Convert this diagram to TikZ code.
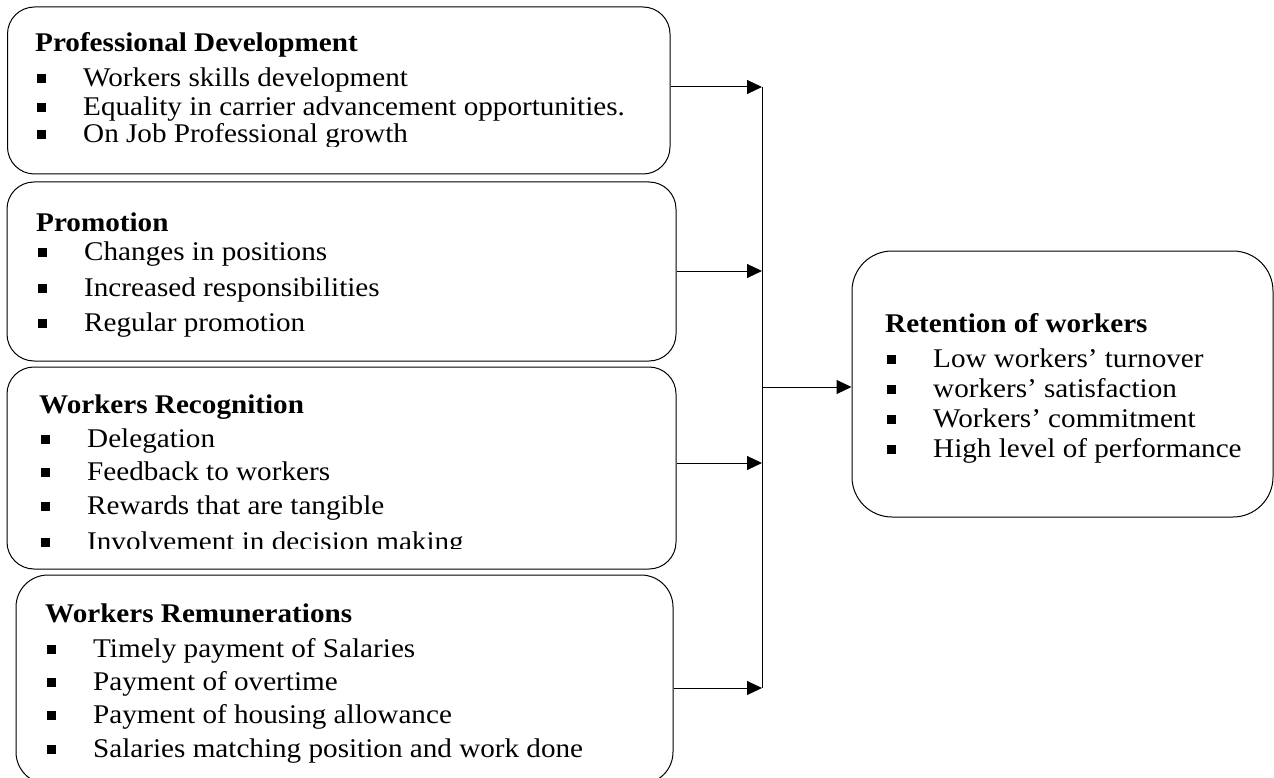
\documentclass[tikz,border=0pt]{standalone}
\usepackage{fontspec}
\setmainfont{Liberation Serif}[FakeStretch=1.08]
\usetikzlibrary{arrows.meta}
\newcommand{\bulitem}[1]{\kern2pt\rule[3.5pt]{9pt}{9pt}\kern37pt #1}
\tikzset{
	box/.style={draw,line width=1pt,rounded corners=27pt,inner sep=0pt},
	head/.style={anchor=base west,inner sep=0pt,font=\fontsize{27}{32}\selectfont\bfseries},
	item/.style={anchor=base west,inner sep=0pt,font=\fontsize{27}{32}\selectfont},
}
\begin{document}
\begin{tikzpicture}[x=1pt,y=-1pt,>={Triangle[length=15pt,width=14pt]}]
			\useasboundingbox (0,0) rectangle (1274,778);
			% boxes
			\node[box,minimum width=662.5pt,minimum height=167pt] (pd) at (338.75,90.5) {};
			\node[box,minimum width=669pt,minimum height=179pt] (pr) at (341.5,271.5) {};
			\node[box,minimum width=669pt,minimum height=202pt] (wr) at (341.5,468) {};
			\node[box,minimum width=657pt,minimum height=209pt,rounded corners=32pt] (wm) at (344.5,679.5) {};
			\node[box,minimum width=421pt,minimum height=266pt,rounded corners=40pt] (rw) at (1062.5,384) {};
			% texts
			\begin{scope}
				\clip (0,0) rectangle (700,147);
				\node[head] (pdh) at (35,52) {Professional Development};
				\foreach \y/\t [count=\i] in {87/Workers skills development,116/Equality in carrier advancement opportunities.,143/On Job Professional growth}
					\node[item] (pd\i) at (35,\y) {\bulitem{\t}};
			\end{scope}
			\node[head] (prh) at (36,231) {Promotion};
			\foreach \y/\t [count=\i] in {260/Changes in positions,296/Increased responsibilities,331/Regular promotion}
				\node[item] (pr\i) at (36,\y) {\bulitem{\t}};
			\begin{scope}
				\clip (0,370) rectangle (700,548);
				\node[head] (wrh) at (39,413) {Workers Recognition};
				\foreach \y/\t [count=\i] in {447/Delegation,480/Feedback to workers,514/Rewards that are tangible,550/Involvement in decision making}
					\node[item] (wr\i) at (39,\y) {\bulitem{\t}};
			\end{scope}
			\node[head] (wmh) at (45,622) {Workers Remunerations};
			\foreach \y/\t [count=\i] in {657/Timely payment of Salaries,690/Payment of overtime,723/Payment of housing allowance,757/Salaries matching position and work done}
				\node[item] (wm\i) at (45,\y) {\bulitem{\t}};
			\node[head] (rwh) at (885,332) {Retention of workers};
			\foreach \y/\t [count=\i] in {367/Low workers' turnover,397/workers' satisfaction,427/Workers' commitment,457/High level of performance}
				\node[item] (rw\i) at (885,\y) {\bulitem{\t}};
			% connectors
			\coordinate (j1) at (762,87);
			\coordinate (j2) at (762,271);
			\coordinate (j3) at (762,463);
			\coordinate (j4) at (762,688);
			\coordinate (jo) at (762,387);
			\draw[line width=1pt] (j1)--(j4);
			\draw[->,line width=1pt] (pd.east |- j1)--(j1);
			\draw[->,line width=1pt] (pr.east |- j2)--(j2);
			\draw[->,line width=1pt] (wr.east |- j3)--(j3);
			\draw[->,line width=1pt] (wm.east |- j4)--(j4);
			\draw[->,line width=1pt] (jo)--(rw.west |- jo);
		\end{tikzpicture}
\end{document}
